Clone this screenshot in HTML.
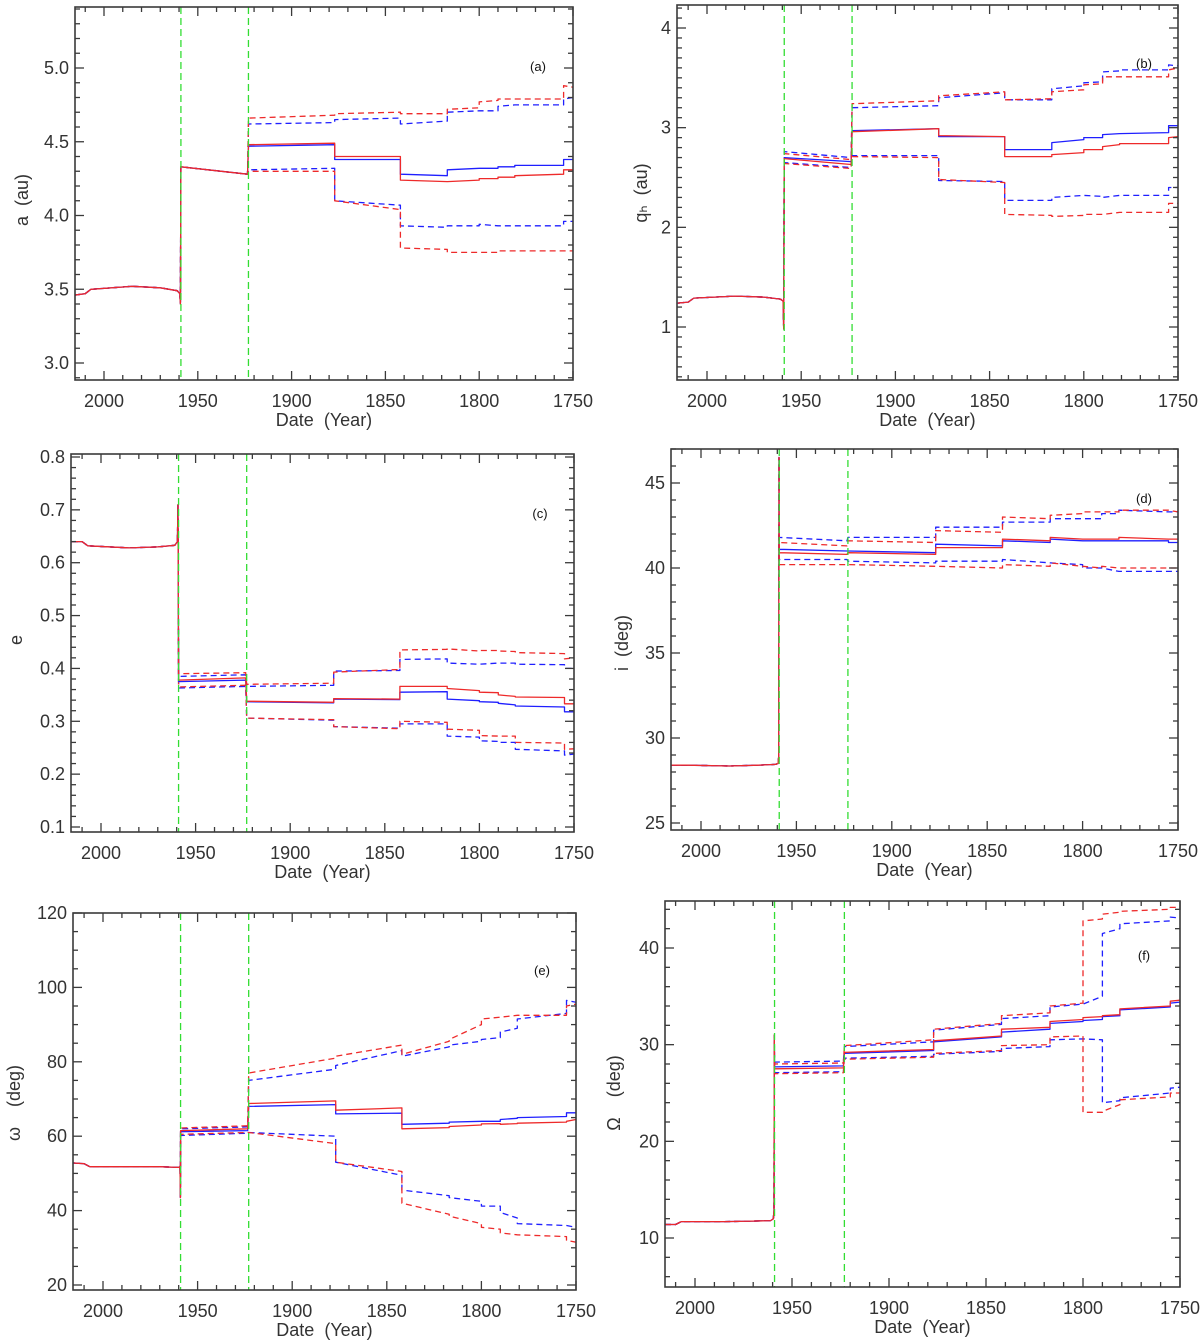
<!DOCTYPE html>
<html><head><meta charset="utf-8">
<style>
html,body{margin:0;padding:0;background:#fff;}
svg{display:block;font-family:"Liberation Sans",sans-serif;}
</style></head>
<body>
<svg id="chart" width="1200" height="1344" viewBox="0 0 1200 1344" xmlns="http://www.w3.org/2000/svg"></svg>
<script>
// shared time structure
const PRE_YEARS = [2015.5, 2010, 2007, 1985, 1970, 1961, 1959.6, 1959.3];
const SEG_START = [1959, 1923, 1877, 1842, 1817, 1800, 1790, 1781, 1755];
const SEG_END   = [1923.5, 1877, 1842, 1817, 1800, 1790, 1781, 1755, 1750];
const ENCOUNTER_YEARS = [1959, 1923];
const X_TICKS = [2000, 1950, 1900, 1850, 1800, 1750];

// panel (a) semi-major axis
const aPre = [3.46,3.47,3.50,3.52,3.51,3.49,3.47,3.40];
const aSpike = null;
const aBlueSolid = [4.33,4.28, 4.47,4.48, 4.38,4.38, 4.28,4.27, 4.31,4.32, 4.32,4.32, 4.33,4.33, 4.34,4.34, 4.38,4.38];
const aRedSolid  = [4.33,4.28, 4.48,4.49, 4.40,4.40, 4.24,4.23, 4.23,4.24, 4.25,4.25, 4.26,4.26, 4.27,4.28, 4.31,4.31];
const aBlueUp    = [4.33,4.28, 4.62,4.63, 4.65,4.66, 4.62,4.64, 4.70,4.71, 4.71,4.71, 4.74,4.75, 4.75,4.75, 4.79,4.80];
const aRedUp     = [4.33,4.28, 4.66,4.68, 4.69,4.70, 4.69,4.69, 4.72,4.73, 4.77,4.78, 4.79,4.79, 4.79,4.79, 4.88,4.87];
const aBlueLow   = [4.33,4.28, 4.31,4.32, 4.10,4.07, 3.93,3.92, 3.93,3.93, 3.94,3.93, 3.93,3.93, 3.93,3.93, 3.96,3.96];
const aRedLow    = [4.33,4.28, 4.30,4.30, 4.10,4.04, 3.78,3.77, 3.75,3.75, 3.75,3.75, 3.76,3.76, 3.76,3.76, 3.76,3.76];

// panel (b) perihelion distance
const bPre = [1.24,1.25,1.29,1.31,1.30,1.28,1.26,0.98];
const bSpike = null;
const bBlueSolid = [2.70,2.66, 2.97,2.99, 2.91,2.91, 2.78,2.78, 2.85,2.88, 2.90,2.90, 2.93,2.94, 2.94,2.95, 3.02,3.02];
const bRedSolid  = [2.69,2.63, 2.96,2.99, 2.92,2.91, 2.71,2.71, 2.73,2.75, 2.78,2.78, 2.81,2.83, 2.84,2.84, 2.90,2.91];
const bBlueUp    = [2.76,2.70, 3.20,3.22, 3.30,3.35, 3.28,3.28, 3.39,3.42, 3.45,3.46, 3.56,3.57, 3.58,3.58, 3.63,3.62];
const bRedUp     = [2.74,2.68, 3.24,3.27, 3.32,3.36, 3.28,3.29, 3.36,3.38, 3.43,3.44, 3.51,3.51, 3.51,3.51, 3.58,3.60];
const bBlueLow   = [2.65,2.60, 2.72,2.72, 2.47,2.46, 2.27,2.27, 2.30,2.32, 2.32,2.31, 2.30,2.32, 2.32,2.32, 2.40,2.40];
const bRedLow    = [2.64,2.59, 2.71,2.70, 2.48,2.45, 2.13,2.12, 2.11,2.12, 2.13,2.13, 2.13,2.15, 2.15,2.15, 2.24,2.24];

// panel (c) eccentricity
const cPre = [0.64,0.64,0.632,0.628,0.63,0.633,0.64,0.71];
const cSpike = null;
const cBlueSolid = [0.375,0.378, 0.337,0.335, 0.342,0.341, 0.355,0.356, 0.342,0.339, 0.337,0.336, 0.334,0.331, 0.329,0.327, 0.318,0.318];
const cRedSolid  = [0.378,0.382, 0.338,0.336, 0.343,0.342, 0.366,0.366, 0.362,0.358, 0.355,0.354, 0.350,0.347, 0.346,0.345, 0.333,0.333];
const cBlueUp    = [0.385,0.388, 0.366,0.368, 0.395,0.396, 0.417,0.418, 0.410,0.408, 0.408,0.410, 0.410,0.410, 0.408,0.407, 0.400,0.400];
const cRedUp     = [0.390,0.392, 0.370,0.372, 0.393,0.398, 0.435,0.436, 0.437,0.433, 0.434,0.434, 0.433,0.432, 0.430,0.428, 0.418,0.420];
const cBlueLow   = [0.363,0.366, 0.306,0.302, 0.290,0.287, 0.295,0.295, 0.272,0.270, 0.263,0.262, 0.260,0.260, 0.247,0.244, 0.236,0.238];
const cRedLow    = [0.365,0.368, 0.306,0.303, 0.290,0.286, 0.300,0.298, 0.285,0.283, 0.273,0.272, 0.272,0.272, 0.260,0.259, 0.247,0.248];

// panel (d) inclination
const dPre = [28.4,28.4,28.4,28.35,28.4,28.45,28.5,28.9];
const dSpike = 46.5;
const dBlueSolid = [41.1,41.0, 41.0,40.9, 41.4,41.3, 41.6,41.5, 41.7,41.6, 41.6,41.6, 41.6,41.6, 41.6,41.6, 41.5,41.5];
const dRedSolid  = [40.9,40.8, 40.9,40.8, 41.2,41.2, 41.7,41.6, 41.8,41.7, 41.7,41.7, 41.7,41.7, 41.8,41.7, 41.7,41.7];
const dBlueUp    = [41.8,41.6, 41.8,41.8, 42.4,42.4, 42.7,42.7, 42.9,42.9, 42.9,42.9, 43.2,43.2, 43.4,43.3, 43.3,43.3];
const dRedUp     = [41.5,41.3, 41.6,41.5, 42.2,42.1, 43.0,42.9, 43.1,43.2, 43.3,43.3, 43.3,43.3, 43.4,43.4, 43.4,43.3];
const dBlueLow   = [40.5,40.5, 40.4,40.3, 40.4,40.4, 40.5,40.3, 40.3,40.2, 40.0,40.0, 40.0,39.8, 39.8,39.8, 39.8,39.8];
const dRedLow    = [40.2,40.2, 40.2,40.1, 40.1,40.0, 40.2,40.1, 40.3,40.1, 40.1,40.0, 40.1,40.0, 40.0,40.0, 40.0,40.0];

// panel (e) argument of perihelion
const ePre = [52.8,52.6,51.8,51.8,51.8,51.6,51.6,52.0];
const eSpike = 43.5;
const eBlueSolid = [61.2,61.5, 68.0,68.5, 66.0,66.2, 63.2,63.5, 63.8,64.0, 64.0,64.0, 64.5,64.8, 65.0,65.3, 66.3,66.3];
const eRedSolid  = [61.5,62.0, 68.8,69.5, 67.0,67.6, 62.0,62.3, 62.6,63.0, 63.3,63.4, 63.2,63.4, 63.5,63.8, 64.0,64.5];
const eBlueUp    = [62.0,62.5, 75.0,78.0, 79.0,83.0, 81.5,84.0, 84.5,85.5, 86.0,86.5, 88.0,89.0, 91.5,93.0, 96.5,96.0];
const eRedUp     = [62.2,62.8, 77.0,81.0, 81.5,84.5, 82.0,85.5, 86.0,90.0, 91.5,92.0, 92.0,92.5, 92.5,92.5, 95.0,95.5];
const eBlueLow   = [60.2,60.8, 61.0,60.0, 53.0,49.5, 45.5,44.0, 43.5,42.5, 41.2,41.2, 39.5,38.0, 36.5,36.0, 36.0,35.5];
const eRedLow    = [60.5,61.0, 61.0,58.0, 53.0,50.5, 42.0,39.0, 38.5,36.5, 35.5,35.0, 34.0,33.5, 33.5,33.0, 32.0,31.5];

// panel (f) longitude of ascending node
const fPre = [11.4,11.4,11.7,11.7,11.75,11.8,12.0,13.0];
const fSpike = 31.0;
const fBlueSolid = [27.7,27.8, 29.1,29.4, 30.3,30.8, 31.3,31.6, 32.2,32.4, 32.5,32.6, 32.9,33.0, 33.6,33.9, 34.3,34.4];
const fRedSolid  = [27.5,27.6, 29.2,29.5, 30.4,30.9, 31.6,31.8, 32.4,32.6, 32.8,32.9, 33.0,33.1, 33.7,34.0, 34.5,34.6];
const fBlueUp    = [28.2,28.3, 29.8,30.3, 31.5,32.1, 32.7,33.0, 33.9,34.2, 34.2,35.0, 41.5,42.0, 42.5,42.8, 43.2,43.1];
const fRedUp     = [28.0,28.1, 29.9,30.5, 31.6,32.2, 33.0,33.3, 34.0,34.3, 42.8,43.0, 43.5,43.7, 43.8,44.0, 44.2,44.2];
const fBlueLow   = [27.1,27.2, 28.6,28.8, 29.0,29.3, 29.6,29.8, 30.5,30.6, 30.6,30.5, 24.0,24.2, 24.5,25.0, 25.5,25.6];
const fRedLow    = [27.0,27.1, 28.5,28.7, 29.1,29.4, 29.9,30.0, 30.8,30.9, 23.0,23.0, 23.1,23.8, 24.3,24.6, 25.0,25.0];

const NS = "http://www.w3.org/2000/svg";
const svg = document.getElementById('chart');
function mk(tag, attrs, parent){
  const el = document.createElementNS(NS, tag);
  for (const k in attrs) el.setAttribute(k, attrs[k]);
  (parent||svg).appendChild(el);
  return el;
}

const panels = [
  {id:'a', L:75, R:573, T:7, B:380, x2000:104, y0v:3.0, y0p:363, y1v:5.0, y1p:68, major:0.5, minor:0.1, dec:1,
   pre:aPre, spike:aSpike, bs:aBlueSolid, rs:aRedSolid, bu:aBlueUp, ru:aRedUp, bl:aBlueLow, rl:aRedLow,
   title:'a  (au)', tx:23, ty:200, lab:'(a)', lx:538, ly:71, xty:426},
  {id:'b', L:677, R:1178, T:5, B:380, x2000:707, y0v:1, y0p:327, y1v:4, y1p:28, major:1, minor:0.1, dec:0,
   pre:bPre, spike:bSpike, bs:bBlueSolid, rs:bRedSolid, bu:bBlueUp, ru:bRedUp, bl:bBlueLow, rl:bRedLow,
   title:'q\u2095  (au)', tx:642, ty:193, lab:'(b)', lx:1144, ly:68, xty:426},
  {id:'c', L:71, R:574, T:454, B:832, x2000:101, y0v:0.1, y0p:827, y1v:0.8, y1p:457, major:0.1, minor:0.02, dec:1,
   pre:cPre, spike:cSpike, bs:cBlueSolid, rs:cRedSolid, bu:cBlueUp, ru:cRedUp, bl:cBlueLow, rl:cRedLow,
   title:'e', tx:17, ty:640, lab:'(c)', lx:540, ly:518, xty:878},
  {id:'d', L:671, R:1178, T:449, B:830, x2000:701, y0v:25, y0p:823, y1v:45, y1p:483, major:5, minor:1, dec:0,
   pre:dPre, spike:dSpike, bs:dBlueSolid, rs:dRedSolid, bu:dBlueUp, ru:dRedUp, bl:dBlueLow, rl:dRedLow,
   title:'i  (deg)', tx:623, ty:643, lab:'(d)', lx:1144, ly:503, xty:876},
  {id:'e', L:73, R:576, T:913, B:1290, x2000:103, y0v:20, y0p:1285, y1v:120, y1p:913, major:20, minor:5, dec:0,
   pre:ePre, spike:eSpike, bs:eBlueSolid, rs:eRedSolid, bu:eBlueUp, ru:eRedUp, bl:eBlueLow, rl:eRedLow,
   title:'\u03c9    (deg)', tx:15, ty:1103, lab:'(e)', lx:542, ly:975, xty:1336},
  {id:'f', L:665, R:1180, T:901, B:1287, x2000:695, y0v:10, y0p:1238, y1v:40, y1p:948, major:10, minor:2, dec:0,
   pre:fPre, spike:fSpike, bs:fBlueSolid, rs:fRedSolid, bu:fBlueUp, ru:fRedUp, bl:fBlueLow, rl:fRedLow,
   title:'\u03a9    (deg)', tx:615, ty:1093, lab:'(f)', lx:1144, ly:960, xty:1333}
];

const AX = '#3a3a3a', TXT = '#333';
const BLUE = '#1f1fff', RED = '#ee2a2a', GREEN = '#33dd33';

panels.forEach(p => {
  const g = mk('g', {});
  
  
  const pxPerYr = (p.R - p.x2000) / 250;
  const X = yr => p.x2000 + (2000 - yr) * pxPerYr;
  const Y = v => p.y0p + (v - p.y0v) * (p.y1p - p.y0p) / (p.y1v - p.y0v);
  const vmin = p.y0v + (p.B - p.y0p) * (p.y1v - p.y0v) / (p.y1p - p.y0p);
  const vmax = p.y0v + (p.T - p.y0p) * (p.y1v - p.y0v) / (p.y1p - p.y0p);

  const cp = mk('clipPath', {id:'clip-' + p.id}, g);
  mk('rect', {x:p.L, y:p.T, width:p.R - p.L, height:p.B - p.T}, cp);
  const plot = mk('g', {'clip-path':'url(#clip-' + p.id + ')'}, g);
  
  

  function seriesPath(vals){
    const pts = [];
    PRE_YEARS.forEach((yr, i) => pts.push([X(yr), Y(p.pre[i])]));
    if (p.spike !== null) pts.push([X(1959.1), Y(p.spike)]);
    SEG_START.forEach((ys, k) => {
      pts.push([X(ys), Y(vals[2*k])]);
      pts.push([X(SEG_END[k]), Y(vals[2*k+1])]);
    });
    return 'M' + pts.map(q => q[0].toFixed(1) + ',' + q[1].toFixed(1)).join('L');
  }
  const series = [
    ['blue-dashed-upper', p.bu, BLUE, true],
    ['blue-dashed-lower', p.bl, BLUE, true],
    ['red-dashed-upper', p.ru, RED, true],
    ['red-dashed-lower', p.rl, RED, true],
    ['blue-solid-line', p.bs, BLUE, false],
    ['red-solid-line', p.rs, RED, false]
  ];
  series.forEach(s => {
    const el = mk('path', {d:seriesPath(s[1]), fill:'none', stroke:s[2], 'stroke-width':1.3,
      'stroke-dasharray': s[3] ? '6,4' : 'none', 'stroke-linejoin':'round'}, plot);
    
    
  });
  ENCOUNTER_YEARS.forEach(yr => {
    const el = mk('line', {x1:X(yr), x2:X(yr), y1:p.T, y2:p.B, stroke:GREEN, 'stroke-width':1.3, 'stroke-dasharray':'7,4'}, plot);
    
    
  });

  const fr = mk('rect', {x:p.L, y:p.T, width:p.R - p.L, height:p.B - p.T, fill:'none', stroke:AX, 'stroke-width':1.6}, g);
  
  

  for (let yr = 2010; yr >= 1750; yr -= 10) {
    const x = X(yr);
    if (x < p.L - 0.5 || x > p.R + 0.5) continue;
    const len = (yr % 50 === 0) ? 9 : 5;
    mk('line', {x1:x, x2:x, y1:p.B, y2:p.B - len, stroke:AX, 'stroke-width':1.3}, g);
    mk('line', {x1:x, x2:x, y1:p.T, y2:p.T + len, stroke:AX, 'stroke-width':1.3}, g);
  }
  X_TICKS.forEach(yr => {
    const t = mk('text', {x:X(yr), y:p.B + 27, 'text-anchor':'middle', 'font-size':18, fill:TXT}, g);
    t.textContent = yr;
    
    
  });
  const xt = mk('text', {x:(p.L + p.R) / 2, y:p.xty, 'text-anchor':'middle', 'font-size':18, fill:TXT, style:'white-space:pre'}, g);
  xt.textContent = 'Date  (Year)';
  
  

  const nMin = Math.ceil(vmin / p.minor - 1e-6), nMax = Math.floor(vmax / p.minor + 1e-6);
  const ratio = Math.round(p.major / p.minor);
  for (let n = nMin; n <= nMax; n++) {
    const v = n * p.minor, y = Y(v);
    const isMajor = (((n % ratio) + ratio) % ratio) === 0;
    const len = isMajor ? 9 : 5;
    mk('line', {x1:p.L, x2:p.L + len, y1:y, y2:y, stroke:AX, 'stroke-width':1.3}, g);
    mk('line', {x1:p.R, x2:p.R - len, y1:y, y2:y, stroke:AX, 'stroke-width':1.3}, g);
    if (isMajor) {
      const t = mk('text', {x:p.L - 6, y:y + 6, 'text-anchor':'end', 'font-size':18, fill:TXT}, g);
      t.textContent = v.toFixed(p.dec);
      
      
    }
  }
  const yt = mk('text', {x:p.tx, y:p.ty, 'text-anchor':'middle', 'font-size':18, fill:TXT,
    transform:'rotate(-90 ' + p.tx + ' ' + p.ty + ')', 'dominant-baseline':'middle', style:'white-space:pre'}, g);
  yt.textContent = p.title;
  
  

  const lb = mk('text', {x:p.lx, y:p.ly, 'text-anchor':'middle', 'font-size':13, fill:'#111'}, g);
  lb.textContent = p.lab;
  
  
});
</script>
</body></html>
